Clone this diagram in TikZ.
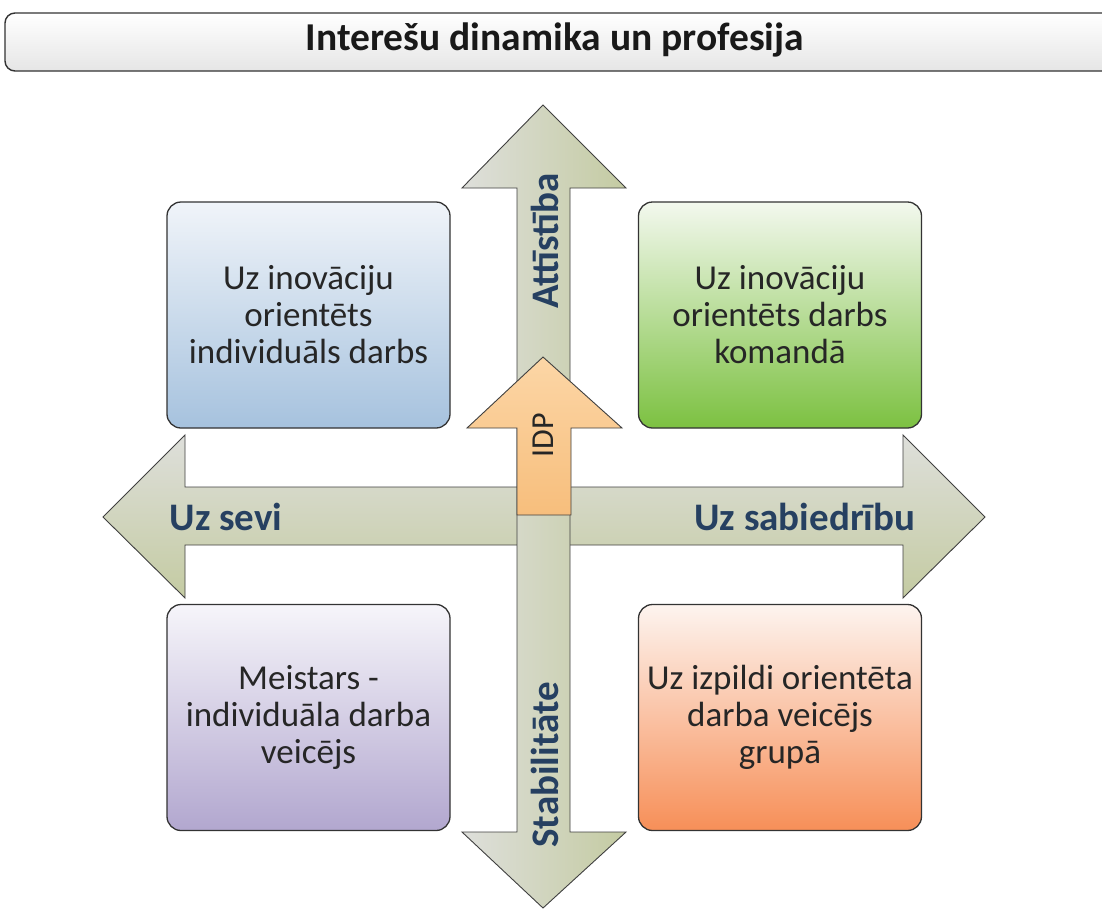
\documentclass[tikz,border=0pt]{standalone}
\usepackage{fontspec}
\setmainfont{Carlito}
\usepackage{xcolor}
\usetikzlibrary{positioning}

\definecolor{axistext}{RGB}{38,64,97}
\definecolor{axisgray}{RGB}{222,223,219}
\definecolor{axisolive}{RGB}{196,203,162}
\definecolor{idplight}{RGB}{252,214,166}
\definecolor{idpdark}{RGB}{247,190,124}

\begin{document}
\begin{tikzpicture}[x=1pt, y=-1pt,
  bigarrow/.style={draw=black!75, line width=0.9pt, line join=miter},
  quad/.style={draw=black!80, line width=1.3pt, rounded corners=14pt, minimum width=283pt, minimum height=226pt, align=center, inner sep=0pt, font=\fontsize{35}{37}\selectfont, text=black!85},
  axislabel/.style={font=\fontsize{39}{42}\selectfont\bfseries, text=axistext, inner sep=0pt}
]
\useasboundingbox (0,0) rectangle (1102,911);
\fill[white] (0,0) rectangle (1102,911);

% title bar
\draw[line width=1.4pt, draw=black!80, rounded corners=10pt, top color=white, bottom color=black!10]
  (5,13) rectangle (1125,71);
\node[font=\fontsize{39.5}{42}\selectfont\bfseries, text=black!90, inner sep=0pt] (title) at (555,40) {Interešu dinamika un profesija};

% axes
\draw[bigarrow, top color=axisgray, bottom color=axisolive]
  (103,517) -- (185,435) -- (185,487) -- (903,487) -- (903,435) -- (985,517)
  -- (903,598) -- (903,545) -- (185,545) -- (185,598) -- cycle;
\draw[bigarrow, left color=axisgray, right color=axisolive]
  (543,105) -- (626,188) -- (570,188) -- (570,832) -- (626,832) -- (543,908)
  -- (462,832) -- (517,832) -- (517,188) -- (462,188) -- cycle;
\draw[bigarrow, top color=idplight, bottom color=idpdark]
  (543,357) -- (622,428) -- (571,428) -- (571,515) -- (517,515) -- (517,428)
  -- (467,428) -- cycle;

% quadrants
\node[quad, top color={rgb,255:red,240;green,244;blue,249}, bottom color={rgb,255:red,166;green,194;blue,222}]
  (innind) at (308.5,315) {Uz inovāciju\\orientēts\\individuāls darbs};
\node[quad, top color={rgb,255:red,243;green,248;blue,238}, bottom color={rgb,255:red,124;green,193;blue,65}]
  (innteam) at (780,315) {Uz inovāciju\\orientēts darbs\\komandā};
\node[quad, top color={rgb,255:red,246;green,245;blue,250}, bottom color={rgb,255:red,178;green,167;blue,207}]
  (master) at (308.5,717.5) {Meistars -\\individuāla darba\\veicējs};
\node[quad, top color={rgb,255:red,253;green,244;blue,239}, bottom color={rgb,255:red,247;green,143;blue,88}]
  (exec) at (780,717.5) {Uz izpildi orientēta\\darba veicējs\\grupā};

% axis labels
\node[axislabel] (self) at (226,517) {Uz sevi};
\node[axislabel] (society) at (805,517) {Uz sabiedrību};
\node[axislabel, rotate=90] (growth) at (545,241) {Attīstība};
\node[axislabel, rotate=90] (stable) at (545,765) {Stabilitāte};
\node[font=\fontsize{32}{34}\selectfont, text=black!85, rotate=90, inner sep=0pt] (idp) at (543,435) {IDP};
\end{tikzpicture}
\end{document}
